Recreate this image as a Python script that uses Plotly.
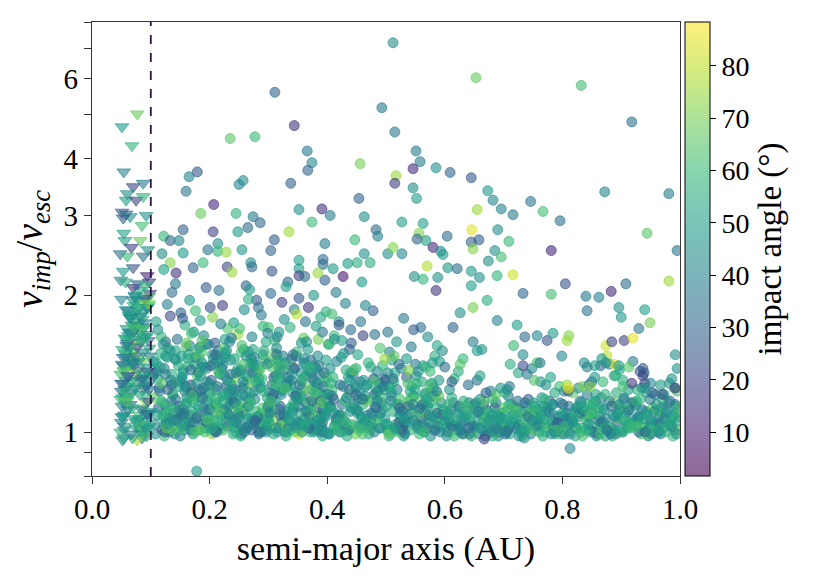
# Impact velocity vs. semi-major axis, coloured by impact angle

import plotly.graph_objects as go
import plotly.colors as pc

# ---------------- Data ----------------
# triangles: impacts inside 0.1 AU
tri_x = [
    .052, .061, .072, .083, .094, .056, .067, .078, .089, .098,
    .049, .058, .069, .080, .091, .054, .065, .076, .087, .096,
    .050, .060, .071, .082, .093, .055, .066, .077, .088, .097,
    .053, .062, .073, .084, .095, .057, .068, .079, .090, .099,
    .051, .059, .070, .081, .092, .056, .064, .075, .086, .095,
    .052, .063, .074, .085, .096, .058, .067, .078, .089, .094,
    .050, .061, .072, .083, .093, .054, .065, .076, .087, .098,
    .053, .060, .071, .082, .091, .057, .066, .077, .088, .097,
    .049, .062, .073, .084, .095, .055, .068, .079, .090, .096,
    .051, .059, .070, .081, .092, .056, .064, .075, .086, .093,
    .055, .064, .074, .085, .095, .050, .060, .070, .080, .090,
    .057, .067, .077, .088, .097, .052, .062, .072, .082, .092,
    .054, .063, .073, .084, .094, .049, .059, .069, .079, .089,
    .056, .066, .076, .087, .096, .051, .061, .071, .081, .091,
    .058, .068, .078, .086, .098, .053, .063, .074, .083, .093,
    .055, .065, .075, .085, .094, .050, .060, .070, .080, .090,
    .077, .051, .068, .054, .070, .087, .060, .058, .075, .087,
    .051, .058, .065, .053, .092, .085, .054, .056, .082, .067,
    .048, .060, .087, .095, .070, .053, .094, .049, .057, .078,
    .097, .091,
]
tri_y = [
    0.96, 1.12, 1.31, 1.58, 1.88, 1.03, 1.22, 1.45, 1.70, 2.02,
    1.00, 1.18, 1.39, 1.64, 1.95, 0.97, 1.15, 1.35, 1.62, 1.90,
    1.05, 1.26, 1.50, 1.80, 0.98, 1.09, 1.29, 1.54, 1.83, 1.99,
    1.08, 1.33, 1.60, 1.92, 1.02, 1.20, 1.42, 1.68, 1.97, 1.11,
    1.14, 1.38, 1.66, 2.05, 1.06, 1.24, 1.48, 1.75, 0.99, 1.27,
    1.19, 1.44, 1.73, 0.97, 1.10, 1.30, 1.56, 1.86, 1.04, 1.36,
    1.23, 1.51, 1.82, 1.01, 1.16, 1.40, 1.65, 1.96, 1.13, 1.47,
    1.28, 1.57, 1.90, 1.07, 1.21, 1.46, 1.78, 0.96, 1.25, 1.53,
    1.34, 1.63, 1.99, 1.00, 1.17, 1.37, 1.72, 1.06, 1.32, 1.59,
    1.41, 1.69, 2.08, 1.09, 1.26, 1.49, 1.79, 1.02, 1.43, 1.88,
    1.01, 1.20, 1.47, 1.77, 1.09, 1.28, 1.60, 1.95, 1.04, 1.34,
    1.15, 1.41, 1.71, 0.98, 1.24, 1.52, 1.85, 1.07, 1.30, 1.62,
    1.36, 1.66, 2.00, 1.12, 1.39, 1.18, 1.55, 0.97, 1.43, 1.74,
    1.61, 0.99, 1.26, 1.50, 1.92, 1.08, 1.33, 1.70, 1.21, 1.02,
    1.86, 1.13, 1.37, 1.69, 1.03, 1.46, 1.81, 1.25, 1.58, 1.10,
    1.23, 1.54, 1.05, 1.31, 1.64, 1.96, 1.17, 1.42, 1.88, 1.29,
    5.02, 4.70, 4.27, 3.74, 3.47, 3.53, 3.35, 3.24, 3.24, 3.30,
    3.05, 3.02, 2.98, 2.96, 3.00, 2.85, 2.74, 2.64, 2.64, 2.55,
    2.47, 2.44, 2.44, 2.52, 2.30, 2.26, 2.21, 2.16, 2.14, 2.12,
    2.14, 2.10,
]
tri_ang = [
    45, 38, 62, 27, 50, 55, 33, 71, 41, 18,
    58, 47, 22, 66, 39, 52, 30, 78, 44, 60,
    36, 53, 68, 25, 48, 41, 57, 15, 49, 64,
    51, 29, 46, 74, 35, 56, 42, 61, 23, 48,
    40, 63, 19, 54, 47, 32, 69, 44, 58, 37,
    55, 43, 66, 28, 50, 38, 82, 46, 53, 12,
    34, 59, 47, 41, 72, 26, 52, 45, 64, 39,
    48, 21, 57, 43, 60, 35, 49, 76, 31, 54,
    62, 44, 38, 53, 27, 67, 46, 40, 56, 30,
    45, 52, 16, 61, 43, 58, 37, 50, 70, 42,
    47, 60, 35, 52, 44, 28, 58, 41, 66, 50,
    39, 53, 46, 62, 31, 55, 43, 49, 37, 57,
    64, 42, 50, 36, 48, 59, 33, 54, 45, 40,
    51, 38, 57, 44, 70, 46, 29, 61, 52, 48,
    42, 56, 40, 63, 53, 37, 49, 45, 58, 34,
    58, 45, 52, 30, 47, 41, 65, 38, 55, 43,
    68, 48, 58, 40, 20, 38, 45, 50, 20, 58,
    25, 30, 45, 28, 45, 62, 50, 52, 68, 20,
    33, 60, 35, 45, 25, 48, 12, 40, 55, 30,
    22, 58,
]

# circles: dense band 0.1 - 0.4 AU
band_x = [
    .108, .137, .166, .195, .224, .253, .282, .311, .340, .369,
    .121, .150, .179, .208, .237, .266, .295, .324, .353, .382,
    .114, .143, .172, .201, .230, .259, .288, .317, .346, .375,
    .127, .156, .185, .214, .243, .272, .301, .330, .359, .388,
    .110, .139, .168, .197, .226, .255, .284, .313, .342, .371,
    .124, .153, .182, .211, .240, .269, .298, .327, .356, .385,
    .117, .146, .175, .204, .233, .262, .291, .320, .349, .378,
    .131, .160, .189, .218, .247, .276, .305, .334, .363, .392,
    .106, .135, .164, .193, .222, .251, .280, .309, .338, .367,
    .119, .148, .177, .206, .235, .264, .293, .322, .351, .380,
    .112, .141, .170, .199, .228, .257, .286, .315, .344, .373,
    .126, .155, .184, .213, .242, .271, .300, .329, .358, .387,
    .109, .138, .167, .196, .225, .254, .283, .312, .341, .370,
    .123, .152, .181, .210, .239, .268, .297, .326, .355, .384,
    .115, .144, .173, .202, .231, .260, .289, .318, .347, .376,
    .129, .158, .187, .216, .245, .274, .303, .332, .361, .390,
    .107, .136, .165, .194, .223, .252, .281, .310, .339, .368,
    .120, .149, .178, .207, .236, .265, .294, .323, .352, .381,
    .113, .142, .171, .200, .229, .258, .287, .316, .345, .374,
    .128, .157, .186, .215, .244, .273, .302, .331, .360, .389,
    .111, .140, .169, .198, .227, .256, .285, .314, .343, .372,
    .125, .154, .183, .212, .241, .270, .299, .328, .357, .386,
    .118, .147, .176, .205, .234, .263, .292, .321, .350, .379,
    .132, .161, .190, .219, .248, .277, .306, .335, .364, .393,
    .116, .145, .174, .203, .232, .261, .290, .319, .348, .377,
    .122, .151, .180, .209, .238, .267, .296, .325, .354, .383,
    .135, .164, .193, .222, .251, .280, .309, .338, .367, .396,
    .128, .157, .186, .215, .244, .273, .302, .331, .360, .389,
    .141, .170, .199, .228, .257, .286, .315, .344, .373, .398,
    .124, .153, .182, .211, .240, .269, .298, .327, .356, .385,
    .138, .167, .196, .225, .254, .283, .312, .341, .370, .399,
    .131, .160, .189, .218, .247, .276, .305, .334, .363, .392,
    .104, .174, .203, .232, .261, .290, .319, .348, .377, .394,
    .120, .149, .178, .207, .236, .265, .294, .323, .352, .381,
    .133, .162, .191, .220, .249, .278, .307, .336, .365, .394,
    .126, .155, .184, .213, .242, .271, .300, .329, .358, .387,
    .140, .169, .198, .227, .256, .285, .314, .343, .372, .397,
    .123, .152, .181, .210, .239, .268, .297, .326, .355, .384,
    .137, .166, .195, .224, .253, .282, .311, .340, .369, .398,
    .129, .158, .187, .216, .245, .274, .303, .332, .361, .390,
    .105, .172, .201, .230, .259, .288, .317, .346, .375, .396,
    .121, .150, .179, .208, .237, .266, .295, .324, .353, .382,
    .134, .163, .192, .221, .250, .279, .308, .337, .366, .395,
    .127, .156, .185, .214, .243, .272, .301, .330, .359, .388,
    .142, .171, .200, .229, .258, .287, .316, .345, .374, .399,
    .125, .154, .183, .212, .241, .270, .299, .328, .357, .386,
    .139, .168, .197, .226, .255, .284, .313, .342, .371, .397,
    .132, .161, .190, .219, .248, .277, .306, .335, .364, .393,
    .106, .175, .204, .233, .262, .291, .320, .349, .378, .391,
    .130, .159, .188, .217, .246, .275, .304, .333, .362, .391,
]
band_y = [
    0.99, 1.21, 1.05, 1.38, 1.12, 0.98, 1.29, 1.07, 1.45, 1.02,
    1.08, 0.98, 1.33, 1.02, 1.17, 1.50, 1.03, 1.24, 0.99, 1.13,
    1.25, 1.44, 0.99, 1.15, 1.03, 1.27, 1.10, 1.40, 1.06, 1.31,
    1.02, 1.12, 1.19, 1.51, 1.31, 1.05, 1.42, 0.98, 1.20, 1.08,
    1.36, 1.03, 1.27, 1.08, 1.46, 1.16, 0.99, 1.33, 1.12, 1.00,
    1.15, 1.31, 1.01, 1.24, 0.99, 1.39, 1.19, 1.04, 1.35, 1.22,
    1.49, 1.07, 1.41, 0.99, 1.21, 1.09, 1.48, 1.14, 1.02, 1.40,
    1.06, 1.54, 1.13, 1.34, 1.07, 1.23, 1.02, 1.29, 1.16, 0.98,
    1.19, 1.17, 1.48, 1.11, 1.40, 1.01, 1.35, 0.99, 1.27, 1.11,
    1.01, 1.26, 1.07, 1.45, 1.15, 1.32, 1.06, 1.21, 1.04, 1.26,
    1.31, 0.99, 1.22, 1.04, 1.26, 1.11, 1.25, 1.44, 1.38, 1.05,
    1.11, 1.37, 1.54, 1.19, 1.02, 1.45, 1.13, 1.08, 1.01, 1.34,
    1.42, 1.10, 1.03, 1.29, 1.53, 0.99, 1.40, 1.17, 1.22, 1.15,
    0.98, 1.47, 1.35, 1.01, 1.18, 1.28, 1.00, 1.37, 1.10, 1.03,
    1.23, 1.04, 1.16, 1.40, 1.09, 1.20, 1.31, 1.02, 1.47, 1.19,
    1.53, 1.23, 1.50, 1.13, 1.35, 1.04, 1.16, 1.26, 1.07, 1.09,
    1.04, 1.34, 1.09, 1.56, 1.01, 1.36, 1.08, 1.49, 1.30, 1.36,
    1.28, 1.14, 1.28, 1.06, 1.44, 1.14, 1.45, 1.05, 1.18, 1.01,
    1.13, 1.51, 1.01, 1.22, 1.11, 1.52, 1.04, 1.31, 1.00, 1.24,
    1.46, 1.01, 1.39, 1.36, 1.24, 1.07, 1.22, 1.11, 1.42, 1.07,
    1.09, 1.28, 1.11, 1.02, 1.49, 1.25, 1.37, 1.53, 1.14, 1.44,
    1.34, 1.09, 1.24, 1.16, 1.05, 1.42, 1.10, 1.00, 1.25, 1.17,
    1.17, 1.40, 1.46, 1.48, 1.29, 1.02, 1.51, 1.23, 1.05, 1.29,
    1.00, 1.19, 1.06, 1.09, 1.38, 1.18, 1.27, 1.41, 1.33, 1.12,
    1.39, 1.06, 1.20, 1.27, 1.14, 1.33, 1.03, 1.12, 1.50, 1.04,
    1.03, 1.09, 1.36, 1.00, 1.24, 1.14, 1.06, 1.47, 1.19, 1.28,
    1.27, 1.40, 1.02, 1.20, 1.11, 1.05, 1.32, 1.01, 1.52, 1.09,
    1.10, 1.04, 1.23, 1.43, 1.00, 1.35, 1.15, 1.26, 1.03, 1.17,
    1.45, 1.18, 1.08, 1.05, 1.29, 1.09, 1.00, 1.38, 1.12, 1.44,
    1.00, 1.32, 1.46, 1.15, 1.06, 1.22, 1.41, 1.04, 1.30, 1.01,
    1.21, 1.01, 1.17, 1.33, 1.50, 1.00, 1.25, 1.11, 1.08, 1.32,
    1.07, 1.25, 1.04, 1.10, 1.18, 1.46, 1.12, 1.02, 1.41, 1.05,
    1.33, 1.48, 1.30, 1.23, 1.02, 1.13, 1.37, 1.22, 1.00, 1.20,
    1.16, 1.12, 1.10, 1.41, 1.34, 1.07, 1.03, 1.30, 1.14, 1.38,
    1.51, 1.07, 1.39, 1.02, 1.10, 1.29, 1.19, 1.06, 1.25, 1.00,
    1.05, 1.35, 1.01, 1.26, 1.45, 1.01, 1.07, 1.42, 1.04, 1.23,
    1.12, 1.22, 1.27, 1.08, 1.21, 1.38, 1.48, 1.16, 1.35, 1.11,
    1.38, 1.02, 1.14, 1.48, 1.04, 1.18, 1.03, 1.09, 1.20, 1.47,
    1.01, 1.55, 1.05, 1.17, 1.37, 1.08, 1.28, 1.34, 1.02, 1.14,
    1.24, 1.15, 1.42, 1.03, 1.13, 1.52, 1.10, 1.00, 1.45, 1.03,
    1.43, 1.05, 1.21, 1.30, 1.00, 1.26, 1.44, 1.20, 1.10, 1.29,
    1.09, 1.29, 1.08, 1.12, 1.27, 1.03, 1.01, 1.39, 1.27, 1.06,
    1.30, 1.45, 1.00, 1.38, 1.08, 1.11, 1.21, 1.13, 1.06, 1.35,
    1.02, 1.10, 1.33, 1.06, 1.16, 1.42, 1.05, 1.27, 1.31, 1.00,
    1.18, 1.20, 1.12, 1.51, 1.41, 1.00, 1.34, 1.03, 1.17, 1.21,
    1.47, 1.03, 1.53, 1.00, 1.22, 1.16, 1.14, 1.25, 1.00, 1.40,
    1.06, 1.37, 1.06, 1.21, 1.03, 1.31, 1.02, 1.48, 1.39, 1.08,
    1.13, 1.16, 1.25, 1.44, 1.14, 1.06, 1.39, 1.07, 1.11, 1.26,
    1.35, 1.00, 1.02, 1.09, 1.47, 1.23, 1.09, 1.18, 1.22, 1.02,
    1.04, 1.26, 1.19, 1.35, 1.05, 1.40, 1.17, 1.32, 1.04, 1.16,
]
band_ang = [
    45, 62, 33, 51, 18, 57, 40, 72, 28, 48,
    55, 41, 67, 24, 49, 36, 58, 43, 81, 30,
    38, 52, 46, 60, 27, 44, 65, 35, 50, 14,
    63, 29, 54, 42, 71, 39, 47, 56, 33, 59,
    47, 58, 21, 53, 44, 66, 31, 48, 40, 57,
    31, 46, 61, 37, 55, 25, 52, 68, 45, 42,
    56, 35, 49, 74, 38, 50, 43, 27, 62, 47,
    42, 64, 28, 45, 59, 33, 76, 51, 37, 54,
    68, 39, 53, 32, 46, 61, 35, 57, 44, 26,
    25, 50, 43, 58, 34, 48, 66, 40, 53, 61,
    52, 44, 70, 47, 23, 55, 41, 63, 36, 49,
    39, 57, 35, 62, 50, 30, 54, 45, 78, 38,
    49, 26, 58, 43, 65, 42, 37, 53, 48, 60,
    60, 48, 40, 55, 31, 69, 46, 28, 57, 43,
    34, 63, 51, 22, 47, 38, 59, 44, 32, 66,
    57, 41, 64, 50, 39, 53, 24, 61, 46, 35,
    43, 55, 30, 48, 62, 36, 51, 70, 41, 56,
    65, 33, 47, 59, 44, 27, 63, 38, 54, 45,
    28, 52, 60, 40, 56, 47, 34, 49, 67, 39,
    50, 45, 37, 66, 29, 58, 43, 55, 35, 52,
    46, 61, 55, 34, 51, 40, 70, 42, 58, 31,
    37, 30, 44, 57, 48, 64, 49, 33, 45, 63,
    61, 54, 26, 45, 68, 35, 56, 47, 39, 50,
    40, 47, 59, 38, 53, 44, 31, 62, 51, 27,
    53, 36, 48, 64, 42, 57, 46, 30, 60, 44,
    51, 36, 60, 44, 28, 55, 47, 39, 63, 41,
    33, 58, 45, 52, 67, 40, 24, 56, 48, 37,
    62, 43, 30, 49, 55, 38, 71, 46, 53, 29,
    44, 65, 52, 35, 42, 59, 48, 31, 57, 50,
    27, 47, 63, 58, 36, 51, 42, 69, 40, 55,
    56, 39, 48, 43, 61, 34, 53, 45, 26, 64,
    45, 54, 36, 66, 49, 43, 58, 37, 52, 40,
    38, 61, 29, 47, 55, 64, 41, 50, 46, 33,
    59, 32, 57, 41, 38, 48, 66, 54, 35, 47,
    46, 52, 43, 60, 31, 56, 39, 44, 68, 25,
    35, 48, 67, 38, 53, 30, 57, 42, 49, 61,
    53, 27, 44, 55, 46, 62, 35, 59, 41, 48,
    40, 63, 51, 30, 58, 45, 49, 36, 56, 43,
    64, 41, 37, 54, 44, 33, 60, 47, 29, 52,
    31, 57, 46, 49, 65, 52, 38, 55, 43, 39,
    48, 35, 59, 42, 37, 47, 54, 28, 62, 56,
    57, 44, 32, 63, 50, 39, 45, 61, 36, 47,
    42, 53, 61, 37, 45, 58, 29, 50, 54, 35,
    66, 38, 47, 56, 33, 46, 52, 40, 59, 44,
    34, 59, 40, 48, 62, 37, 57, 45, 31, 53,
    50, 46, 55, 29, 47, 60, 41, 63, 48, 38,
    43, 31, 64, 52, 39, 54, 46, 35, 57, 49,
    58, 49, 38, 45, 56, 28, 63, 51, 42, 36,
    37, 62, 53, 41, 48, 57, 34, 46, 60, 45,
    47, 40, 35, 59, 43, 50, 61, 38, 51, 66,
]

# circles: looser cloud above the band, 0.1 - 0.45 AU
upper_x = [
    .125, .158, .190, .222, .255, .288, .318, .352, .385, .420,
    .112, .145, .176, .209, .241, .272, .304, .337, .368, .403,
    .133, .166, .198, .231, .262, .296, .327, .360, .392, .431,
    .118, .151, .184, .216, .248, .280, .311, .344, .377, .412,
    .128, .161, .194, .226, .259, .291, .323, .356, .389, .440,
    .109, .142, .173, .205, .237, .268, .300, .333, .365, .398,
    .136, .169, .201, .234, .266, .299, .330, .363, .396, .425,
    .121, .154, .187, .219, .251, .283, .315, .348, .381, .415,
]
upper_y = [
    1.58, 1.72, 1.63, 1.90, 1.55, 1.81, 1.66, 1.97, 1.60, 1.75,
    1.68, 1.60, 1.85, 1.57, 1.74, 1.62, 2.02, 1.70, 1.88, 1.56,
    1.80, 1.95, 1.56, 1.69, 2.10, 1.58, 1.77, 1.61, 1.66, 1.92,
    1.62, 1.83, 1.76, 2.05, 1.64, 1.95, 1.59, 1.86, 2.00, 1.63,
    1.91, 1.57, 2.08, 1.60, 1.86, 1.71, 1.93, 1.57, 1.79, 1.68,
    1.75, 2.12, 1.66, 1.79, 1.61, 2.06, 1.70, 2.14, 1.58, 1.84,
    2.03, 1.65, 1.88, 1.58, 1.96, 1.65, 2.09, 1.75, 2.16, 1.59,
    1.56, 1.78, 1.59, 1.73, 1.69, 1.88, 1.62, 1.82, 1.71, 2.03,
]
upper_ang = [
    30, 55, 42, 18, 63, 37, 48, 25, 70, 44,
    45, 36, 60, 28, 50, 41, 33, 57, 15, 52,
    22, 47, 38, 64, 29, 53, 44, 67, 36, 40,
    58, 31, 49, 35, 75, 26, 56, 39, 47, 61,
    40, 68, 27, 50, 43, 58, 20, 46, 54, 33,
    52, 38, 46, 72, 35, 48, 62, 30, 44, 57,
    33, 59, 24, 43, 55, 40, 51, 36, 28, 49,
    47, 26, 65, 39, 61, 34, 42, 79, 50, 37,
]

# circles: 0.4 - 0.6 AU
mid_x = [
    .404, .425, .446, .467, .488, .509, .530, .551, .572, .597,
    .413, .434, .455, .476, .497, .518, .539, .560, .581, .402,
    .408, .429, .450, .471, .492, .513, .534, .555, .576, .480,
    .418, .439, .460, .481, .502, .523, .544, .565, .586, .533,
    .402, .423, .444, .465, .486, .507, .528, .549, .570, .590,
    .416, .437, .458, .479, .500, .521, .542, .563, .584, .455,
    .410, .431, .452, .473, .494, .515, .536, .557, .578, .518,
    .421, .442, .463, .484, .505, .526, .547, .568, .589, .568,
    .406, .427, .448, .469, .490, .511, .532, .553, .574, .437,
    .414, .435, .456, .477, .498, .519, .540, .561, .582, .505,
    .409, .430, .451, .472, .493, .514, .535, .556, .577, .579,
    .419, .440, .461, .482, .503, .524, .545, .566, .587, .463,
    .412, .433, .454, .475, .496, .517, .538, .559, .580, .600,
    .405, .426, .447, .468, .489, .510, .531, .552, .573, .594,
    .417, .438, .459, .480, .501, .522, .543, .564, .585, .407,
    .403, .424, .445, .466, .487, .508, .529, .550, .571, .592,
    .415, .436, .457, .478, .499, .520, .541, .562, .583, .449,
    .407, .428, .449, .470, .491, .512, .533, .554, .575, .596,
    .420, .441, .462, .483, .504, .525, .546, .567, .588, .491,
    .401, .422, .443, .464, .485, .506, .527, .548, .569, .590,
    .411, .432, .453, .474, .495, .516, .537, .558, .579, .527,
    .418, .439, .460, .481, .502, .523, .544, .565, .586, .598,
    .405, .438, .470, .503, .535, .568, .420, .452, .485, .518,
    .550, .583, .412, .445, .478, .510, .543, .575, .428, .461,
    .494, .526, .559, .591, .408, .441, .474, .506, .539, .571,
    .424, .457, .490, .522, .555, .587, .416, .449, .481, .514,
    .547, .579, .432, .465, .498, .530, .563, .596, .402, .600,
]
mid_y = [
    0.99, 1.15, 1.03, 1.27, 1.08, 1.20, 0.98, 1.33, 1.05, 1.12,
    1.10, 0.98, 1.22, 1.04, 1.31, 1.01, 1.17, 1.07, 1.25, 0.99,
    1.24, 1.06, 1.12, 0.99, 1.16, 1.29, 1.05, 1.19, 0.98, 1.21,
    1.02, 1.30, 0.99, 1.14, 1.01, 1.09, 1.26, 1.00, 1.13, 1.06,
    1.17, 1.09, 1.34, 1.06, 1.23, 0.99, 1.11, 1.24, 1.02, 1.30,
    1.06, 1.21, 1.08, 1.31, 1.04, 1.15, 1.01, 1.10, 1.19, 1.03,
    1.32, 1.02, 1.18, 1.01, 1.12, 1.35, 1.08, 0.99, 1.28, 1.15,
    1.00, 1.13, 1.05, 1.22, 0.98, 1.05, 1.20, 1.15, 1.07, 1.10,
    1.13, 1.26, 0.99, 1.09, 1.28, 1.11, 0.99, 1.04, 1.16, 1.01,
    1.04, 1.01, 1.29, 1.18, 1.07, 1.24, 1.14, 1.29, 1.01, 1.26,
    1.20, 1.17, 1.10, 1.03, 1.19, 1.02, 1.32, 1.12, 1.23, 1.08,
    1.08, 1.35, 1.15, 1.26, 1.35, 1.18, 1.04, 1.21, 1.10, 1.18,
    1.03, 1.19, 1.01, 1.10, 1.24, 1.04, 1.14, 1.01, 1.20, 1.06,
    1.14, 1.00, 1.27, 1.17, 1.02, 1.22, 1.00, 1.28, 1.09, 1.16,
    1.01, 1.24, 1.07, 1.00, 1.14, 1.05, 1.19, 1.04, 1.01, 1.13,
    1.21, 1.08, 1.15, 1.26, 1.06, 1.17, 1.03, 1.09, 1.14, 1.00,
    1.07, 1.32, 1.02, 1.09, 1.30, 1.00, 1.23, 1.15, 1.05, 1.25,
    1.28, 1.04, 1.21, 1.02, 1.10, 1.31, 1.06, 1.02, 1.27, 1.09,
    1.09, 1.13, 1.30, 1.13, 1.00, 1.09, 1.15, 1.22, 1.03, 1.02,
    1.00, 1.27, 1.04, 1.20, 1.17, 1.25, 1.01, 1.06, 1.18, 1.20,
    1.18, 1.05, 1.11, 1.05, 1.26, 1.02, 1.28, 1.13, 1.08, 1.11,
    1.05, 1.11, 1.18, 1.30, 1.04, 1.13, 1.10, 1.00, 1.23, 1.04,
    1.38, 1.52, 1.42, 1.66, 1.45, 1.39, 1.72, 1.48, 1.36, 1.58,
    1.41, 1.47, 1.60, 1.37, 1.85, 1.44, 1.54, 1.36, 1.49, 1.63,
    1.40, 1.38, 1.70, 1.43, 1.82, 1.57, 1.39, 1.50, 1.37, 1.62,
    1.46, 1.75, 1.53, 1.41, 1.36, 1.55, 1.43, 1.38, 1.64, 1.47,
    1.68, 1.42, 1.37, 1.90, 1.45, 1.78, 1.40, 1.51, 1.56, 1.39,
]
mid_ang = [
    48, 33, 57, 41, 64, 26, 52, 45, 38, 59,
    36, 55, 44, 70, 31, 49, 62, 28, 53, 42,
    61, 40, 29, 53, 46, 58, 35, 67, 44, 23,
    27, 52, 63, 38, 55, 42, 48, 33, 60, 50,
    54, 45, 36, 59, 21, 66, 41, 50, 31, 47,
    43, 62, 50, 25, 48, 37, 57, 44, 74, 34,
    58, 29, 47, 65, 39, 53, 32, 61, 45, 56,
    35, 57, 41, 48, 60, 30, 49, 38, 52, 66,
    50, 38, 68, 43, 33, 56, 45, 27, 58, 41,
    63, 44, 31, 56, 47, 40, 72, 53, 37, 49,
    39, 60, 53, 34, 58, 45, 28, 48, 65, 43,
    46, 35, 58, 51, 42, 62, 54, 40, 30, 57,
    52, 40, 63, 35, 47, 58, 29, 54, 44, 61,
    38, 56, 45, 68, 31, 50, 42, 59, 36, 47,
    60, 33, 49, 41, 55, 27, 64, 46, 39, 53,
    44, 62, 37, 50, 58, 45, 33, 67, 48, 40,
    35, 48, 57, 43, 29, 61, 52, 38, 55, 46,
    57, 41, 30, 59, 46, 36, 49, 45, 62, 34,
    43, 55, 48, 32, 64, 51, 40, 57, 37, 50,
    49, 37, 61, 46, 40, 55, 27, 42, 53, 66,
    31, 59, 44, 52, 38, 47, 63, 35, 48, 42,
    56, 45, 35, 62, 51, 30, 46, 60, 41, 49,
    44, 30, 58, 36, 49, 63, 25, 52, 40, 47,
    35, 55, 43, 68, 29, 51, 38, 60, 46, 20,
    57, 42, 33, 48, 62, 27, 54, 39, 71, 45,
    50, 37, 64, 31, 45, 53, 41, 58, 34, 66,
    28, 49, 56, 42, 75, 37, 52, 44, 61, 33,
]

# circles: 0.6 - 1.0 AU
outer_x = [
    .603, .643, .683, .723, .763, .803, .843, .883, .923, .963,
    .618, .658, .698, .738, .778, .818, .858, .898, .938, .978,
    .611, .651, .691, .731, .771, .811, .851, .891, .931, .971,
    .626, .666, .706, .746, .786, .826, .866, .906, .946, .986,
    .607, .647, .687, .727, .767, .807, .847, .887, .927, .967,
    .622, .662, .702, .742, .782, .822, .862, .902, .942, .982,
    .614, .654, .694, .734, .774, .814, .854, .894, .934, .974,
    .630, .670, .710, .750, .790, .830, .870, .910, .950, .990,
    .605, .645, .685, .725, .765, .805, .845, .885, .925, .965,
    .620, .660, .700, .740, .780, .820, .860, .900, .940, .980,
    .612, .652, .692, .732, .772, .812, .852, .892, .932, .972,
    .628, .668, .708, .748, .788, .828, .868, .908, .948, .988,
    .609, .649, .689, .729, .769, .809, .849, .889, .929, .969,
    .624, .664, .704, .744, .784, .824, .864, .904, .944, .984,
    .616, .656, .696, .736, .776, .816, .856, .896, .936, .976,
    .633, .673, .713, .753, .793, .833, .873, .913, .953, .993,
    .601, .641, .681, .721, .761, .801, .841, .881, .921, .961,
    .637, .677, .717, .757, .797, .837, .877, .917, .957, .996,
    .623, .663, .703, .743, .783, .823, .863, .903, .943, .983,
    .638, .678, .718, .758, .798, .838, .878, .918, .958, .998,
    .631, .671, .711, .751, .791, .831, .871, .911, .951, .991,
    .606, .646, .686, .726, .766, .806, .846, .886, .926, .966,
    .627, .667, .707, .747, .787, .827, .867, .907, .947, .987,
    .602, .642, .682, .722, .762, .802, .842, .882, .922, .962,
    .634, .674, .714, .754, .794, .834, .874, .914, .954, .994,
    .610, .650, .690, .730, .770, .810, .850, .890, .930, .970,
    .625, .665, .705, .745, .785, .825, .865, .905, .945, .985,
    .640, .680, .720, .760, .800, .840, .880, .920, .960, .999,
    .632, .672, .712, .752, .792, .832, .872, .912, .952, .992,
    .608, .648, .688, .728, .768, .808, .848, .888, .928, .968,
    .629, .669, .709, .749, .789, .829, .869, .909, .949, .989,
    .604, .644, .684, .724, .764, .804, .844, .884, .924, .964,
    .636, .676, .716, .756, .796, .836, .876, .916, .956, .997,
    .613, .653, .693, .733, .773, .813, .853, .893, .933, .973,
    .621, .661, .701, .741, .781, .821, .861, .901, .941, .981,
    .617, .657, .697, .737, .777, .817, .857, .897, .937, .977,
    .608, .655, .702, .748, .795, .842, .888, .935, .982, .631,
    .678, .725, .772, .818, .865, .912, .958, .616, .663, .710,
    .757, .803, .850, .897, .943, .990, .640, .687, .733, .780,
    .827, .873, .920, .967, .623, .670, .717, .763, .810, .857,
    .903, .950, .995, .648, .695, .740, .787, .834, .880, .927,
    .973, .612, .660, .706, .752, .799, .845, .892, .939, .986,
]
outer_y = [
    0.98, 1.06, 1.01, 1.13, 1.03, 0.99, 1.09, 1.02, 1.15, 1.00,
    1.04, 0.99, 1.10, 1.01, 1.17, 1.05, 0.98, 1.12, 1.02, 1.07,
    1.12, 1.02, 0.98, 1.07, 1.00, 1.14, 1.03, 0.99, 1.08, 1.18,
    1.00, 1.15, 1.05, 0.99, 1.09, 1.02, 1.19, 1.06, 0.98, 1.03,
    1.07, 1.00, 1.16, 1.04, 0.98, 1.10, 1.01, 1.16, 1.04, 0.99,
    1.02, 1.09, 1.03, 1.18, 1.06, 0.98, 1.13, 1.00, 1.11, 1.05,
    1.16, 1.04, 1.08, 1.00, 1.13, 1.07, 1.00, 1.09, 0.99, 1.12,
    0.99, 1.12, 0.99, 1.09, 1.01, 1.17, 1.05, 1.03, 1.06, 1.01,
    1.10, 0.98, 1.13, 1.03, 1.19, 1.01, 1.08, 0.98, 1.14, 1.09,
    1.03, 1.18, 1.01, 1.14, 1.04, 1.11, 0.99, 1.14, 1.00, 1.16,
    1.19, 1.03, 1.06, 0.98, 1.11, 1.04, 1.15, 1.05, 1.18, 1.02,
    1.01, 1.07, 1.20, 1.06, 0.99, 1.08, 1.02, 1.10, 1.03, 0.98,
    1.05, 1.13, 1.00, 1.11, 1.07, 1.00, 1.10, 1.01, 1.07, 1.13,
    1.14, 1.01, 1.11, 1.02, 1.15, 1.13, 1.04, 1.18, 0.99, 1.06,
    0.98, 1.10, 1.04, 1.16, 1.02, 1.06, 1.17, 1.07, 1.12, 1.00,
    1.08, 1.05, 1.15, 1.01, 1.08, 1.02, 0.98, 1.12, 1.05, 1.10,
    1.02, 1.16, 0.98, 1.07, 1.00, 1.15, 1.06, 1.00, 1.16, 1.04,
    1.11, 1.00, 1.09, 1.12, 1.05, 1.09, 1.01, 1.04, 1.01, 1.08,
    1.01, 1.12, 0.99, 1.05, 1.15, 1.02, 1.08, 1.00, 1.10, 1.17,
    1.09, 1.00, 1.14, 1.07, 0.99, 1.11, 1.03, 1.16, 1.05, 1.01,
    0.99, 1.07, 1.03, 1.16, 1.04, 1.00, 1.12, 1.02, 0.99, 1.14,
    1.15, 1.03, 1.10, 0.98, 1.12, 1.06, 1.00, 1.09, 1.17, 1.04,
    1.04, 1.17, 1.01, 1.11, 1.00, 1.14, 1.05, 1.13, 1.02, 1.08,
    1.11, 0.99, 1.18, 1.02, 1.07, 1.09, 1.15, 0.99, 1.06, 1.12,
    1.06, 1.10, 1.05, 1.14, 1.02, 0.98, 1.07, 1.05, 1.13, 0.99,
    1.00, 1.15, 1.08, 1.01, 1.18, 1.04, 1.11, 1.08, 1.00, 1.10,
    1.13, 1.05, 1.00, 1.09, 1.03, 1.12, 0.99, 1.19, 1.09, 1.03,
    1.02, 1.09, 1.12, 1.04, 1.10, 1.01, 1.17, 1.03, 1.15, 1.06,
    1.17, 1.01, 1.06, 1.13, 1.05, 1.16, 1.02, 1.11, 1.01, 1.15,
    1.05, 1.13, 1.02, 1.00, 1.14, 1.07, 1.09, 1.00, 1.08, 1.02,
    1.08, 0.98, 1.15, 1.06, 1.01, 1.10, 1.13, 1.06, 1.18, 1.09,
    1.00, 1.08, 1.04, 1.17, 1.09, 1.03, 1.04, 1.14, 1.03, 1.00,
    1.14, 1.06, 1.09, 1.03, 1.16, 1.13, 1.01, 1.02, 1.11, 1.13,
    1.03, 1.16, 1.00, 1.10, 1.06, 0.99, 1.16, 1.10, 1.04, 1.07,
    1.10, 1.02, 1.13, 1.08, 0.99, 1.08, 1.06, 1.01, 1.00, 1.05,
    1.07, 1.11, 1.07, 1.02, 1.11, 1.05, 1.10, 1.15, 1.07, 1.11,
    1.24, 1.30, 1.22, 1.38, 1.26, 1.21, 1.33, 1.25, 1.28, 1.45,
    1.23, 1.35, 1.27, 1.22, 1.40, 1.24, 1.21, 1.31, 1.52, 1.26,
    1.42, 1.23, 1.29, 1.37, 1.22, 1.25, 1.27, 1.21, 1.48, 1.32,
    1.25, 1.21, 1.43, 1.27, 1.36, 1.22, 1.55, 1.29, 1.23, 1.21,
    1.30, 1.28, 1.23, 1.58, 1.25, 1.34, 1.22, 1.26, 1.41, 1.24,
    1.21, 1.29, 1.33, 1.24, 1.30, 1.47, 1.27, 1.22, 1.35, 1.31,
]
outer_ang = [
    45, 58, 32, 50, 63, 27, 47, 55, 39, 42,
    53, 38, 61, 44, 29, 56, 48, 35, 67, 51,
    31, 49, 43, 66, 52, 40, 57, 24, 46, 59,
    60, 27, 55, 37, 45, 62, 33, 50, 41, 48,
    42, 64, 36, 53, 58, 31, 46, 70, 54, 35,
    55, 45, 68, 26, 41, 53, 60, 39, 48, 63,
    38, 52, 47, 59, 34, 45, 22, 56, 62, 44,
    65, 35, 51, 43, 57, 38, 53, 46, 30, 57,
    47, 60, 29, 55, 46, 67, 41, 58, 52, 36,
    34, 43, 58, 40, 62, 49, 36, 63, 44, 53,
    57, 51, 44, 61, 30, 55, 50, 28, 59, 46,
    41, 66, 37, 48, 54, 42, 64, 47, 35, 60,
    52, 30, 62, 35, 49, 58, 39, 54, 45, 40,
    28, 56, 49, 57, 43, 34, 56, 42, 65, 51,
    59, 41, 53, 32, 60, 47, 44, 61, 38, 55,
    44, 54, 40, 64, 37, 59, 52, 33, 50, 43,
    50, 39, 57, 46, 55, 26, 61, 49, 56, 37,
    36, 61, 45, 52, 40, 63, 35, 57, 43, 62,
    41, 56, 34, 62, 47, 51, 38, 59, 45, 30,
    55, 42, 66, 37, 53, 44, 60, 28, 50, 63,
    36, 61, 47, 52, 29, 58, 43, 55, 40, 48,
    59, 33, 54, 45, 63, 39, 49, 42, 57, 35,
    44, 65, 38, 56, 41, 53, 27, 61, 48, 52,
    52, 40, 60, 31, 55, 46, 58, 36, 43, 64,
    38, 57, 45, 49, 36, 62, 41, 53, 67, 44,
    63, 29, 52, 40, 58, 35, 55, 47, 32, 56,
    47, 54, 36, 65, 43, 50, 61, 39, 53, 41,
    33, 48, 62, 44, 51, 57, 37, 64, 46, 49,
    56, 42, 49, 58, 30, 45, 54, 41, 60, 38,
    45, 60, 33, 51, 47, 39, 63, 50, 42, 58,
    51, 37, 57, 46, 62, 34, 48, 56, 39, 53,
    40, 53, 44, 35, 49, 60, 46, 31, 55, 47,
    60, 46, 55, 42, 38, 52, 35, 58, 44, 61,
    35, 51, 41, 59, 54, 43, 57, 48, 62, 37,
    49, 44, 63, 37, 45, 56, 40, 52, 36, 54,
    54, 39, 48, 53, 42, 47, 59, 45, 50, 43,
    47, 33, 56, 42, 61, 38, 52, 25, 45, 59,
    36, 54, 44, 67, 30, 50, 41, 58, 46, 35,
    62, 40, 28, 53, 47, 57, 34, 65, 43, 51,
    44, 59, 37, 49, 55, 31, 60, 46, 27, 52,
    55, 42, 63, 38, 48, 36, 53, 70, 40, 57,
    48, 29, 51, 45, 64, 42, 37, 56, 33, 46,
]

# circles: scattered high-velocity impacts
sparse_x = [
    .512, .311, .493, .344, .515, .235, .277, .366, .374, .367,
    .456, .551, .558, .546, .517, .515, .546, .552, .179, .165,
    .160, .250, .257, .338, .207, .185, .245, .274, .286, .265,
    .352, .391, .405, .374, .454, .463, .527, .483, .486, .248,
    .206, .155, .122, .335, .310, .396, .447, .133, .148, .119,
    .155, .197, .214, .214, .228, .255, .304, .352, .393, .393,
    .463, .503, .512, .527, .133, .122, .143, .172, .189, .230,
    .238, .270, .272, .306, .352, .352, .362, .384, .410, .427,
    .435, .451, .473, .459, .653, .832, .918, .585, .609, .645,
    .673, .682, .696, .716, .746, .767, .796, .872, .981, .944,
    .995, .655, .646, .690, .563, .556, .553, .568, .604, .645,
    .658, .648, .580, .593, .597, .709, .685, .696, .674, .781,
    .570, .563, .605, .621, .645, .659, .645, .689, .716, .733,
    .781, .805, .883, .908, .981, .548, .588, .585, .840, .862,
    .842, .896, .900, .940, .949, .930, .811, .874, .884, .905,
    .920, .876, .888, .992, .995, .937, .932, .940, .913, .896,
    .855, .867, .874, .837, .842, .918, .937, .891, .903, .992,
    .970, .953, .940, .847, .855, .869, .808, .810, .626, .648,
    .672, .689, .723, .736, .757, .774, .784, .808, .762, .733,
    .711, .626, .655, .614, .178, .813, .667, .735,
]
sparse_y = [
    7.20, 5.60, 5.18, 4.73, 4.58, 4.43, 4.47, 4.16, 3.92, 3.77,
    3.90, 4.16, 3.94, 3.80, 3.67, 3.53, 3.45, 3.27, 3.74, 3.65,
    3.39, 3.51, 3.58, 3.53, 3.17, 3.03, 3.03, 2.98, 2.89, 2.82,
    3.09, 3.10, 3.00, 2.90, 3.27, 2.98, 2.90, 2.79, 2.70, 2.76,
    2.76, 2.79, 2.70, 2.76, 2.65, 2.60, 2.65, 2.64, 2.64, 2.47,
    2.48, 2.52, 2.60, 2.50, 2.49, 2.52, 2.51, 2.39, 2.40, 2.34,
    2.47, 2.47, 2.55, 2.47, 2.36, 2.28, 2.24, 2.30, 2.36, 2.31,
    2.25, 2.36, 2.31, 2.26, 2.29, 2.21, 2.20, 2.24, 2.29, 2.20,
    2.35, 2.36, 2.36, 2.14, 6.03, 5.80, 4.82, 3.82, 3.73, 3.63,
    3.40, 3.24, 3.10, 3.01, 3.22, 3.06, 2.92, 3.38, 3.35, 2.74,
    2.51, 3.09, 2.79, 2.79, 2.88, 2.74, 2.66, 2.64, 2.70, 2.62,
    2.65, 2.53, 2.55, 2.50, 2.46, 2.63, 2.51, 2.43, 2.38, 2.51,
    2.32, 2.17, 2.30, 2.29, 2.26, 2.19, 2.10, 2.21, 2.22, 2.02,
    2.01, 2.12, 2.04, 2.12, 2.15, 2.20, 2.19, 2.05, 1.99, 1.98,
    1.85, 1.88, 1.79, 1.86, 1.74, 1.69, 1.63, 1.55, 1.58, 1.59,
    1.61, 1.47, 1.41, 1.48, 1.38, 1.38, 1.36, 1.28, 1.39, 1.40,
    1.40, 1.45, 1.42, 1.42, 1.39, 1.28, 1.33, 1.33, 1.26, 1.25,
    1.21, 1.22, 1.25, 1.26, 1.32, 1.29, 1.27, 1.25, 1.83, 1.88,
    1.95, 1.76, 1.72, 1.62, 1.63, 1.59, 1.65, 1.59, 1.42, 1.40,
    1.41, 1.41, 1.51, 1.70, 0.82, 0.92, 0.965, 0.97,
]
sparse_ang = [
    45, 30, 38, 15, 37, 65, 60, 38, 42, 30,
    70, 38, 38, 12, 75, 18, 45, 50, 25, 42,
    35, 40, 45, 28, 12, 68, 58, 38, 32, 32,
    45, 15, 38, 60, 28, 45, 50, 33, 40, 48,
    20, 30, 58, 76, 28, 38, 60, 30, 42, 45,
    48, 35, 45, 58, 75, 48, 30, 50, 32, 32,
    45, 45, 72, 42, 72, 50, 15, 30, 60, 20,
    75, 45, 32, 25, 50, 18, 32, 75, 48, 8,
    48, 55, 55, 48, 68, 62, 35, 45, 30, 25,
    48, 42, 40, 37, 35, 62, 33, 42, 38, 65,
    35, 75, 85, 45, 50, 72, 30, 50, 32, 30,
    28, 72, 12, 42, 48, 60, 45, 62, 45, 12,
    78, 58, 48, 32, 48, 45, 50, 58, 82, 30,
    62, 25, 12, 33, 75, 45, 45, 15, 38, 40,
    35, 45, 48, 50, 70, 35, 72, 82, 20, 20,
    85, 80, 85, 45, 45, 25, 25, 25, 65, 48,
    50, 48, 45, 45, 40, 15, 20, 58, 62, 18,
    25, 28, 48, 72, 48, 60, 75, 85, 45, 70,
    55, 40, 50, 33, 42, 25, 48, 75, 38, 22,
    55, 65, 48, 30, 48, 42, 20, 45,
]

y_major = [1, 2, 3, 4, 6]
y_minor = [0.8, 0.9, 5, 7, 8]
x_ticks = [0.0, 0.2, 0.4, 0.6, 0.8, 1.0]
cbar_ticks = [10, 20, 30, 40, 50, 60, 70, 80]
a_inner = 0.1  # dashed line position (AU)

# ---------------- Combine circle groups ----------------
circ_x = band_x + upper_x + mid_x + outer_x + sparse_x
circ_y = band_y + upper_y + mid_y + outer_y + sparse_y
circ_ang = band_ang + upper_ang + mid_ang + outer_ang + sparse_ang
assert len(tri_x) == len(tri_y) == len(tri_ang)
assert len(circ_x) == len(circ_y) == len(circ_ang)

# ---------------- Semi-transparent viridis ----------------
vir = pc.sequential.Viridis
scale = []
for i, c in enumerate(vir):
    r, g, b = pc.hex_to_rgb(c)
    scale.append([i / (len(vir) - 1), f"rgba({r},{g},{b},0.6)"])
cmin, cmax = 1.6, 88.4

font_family = "Liberation Serif, DejaVu Serif, serif"

fig = go.Figure()

# circles (a > 0.1 AU), colorbar attached here
fig.add_trace(go.Scatter(
    x=circ_x, y=circ_y, mode='markers', showlegend=False,
    marker=dict(
        symbol='circle', size=10, color=circ_ang, colorscale=scale,
        cmin=cmin, cmax=cmax,
        line=dict(width=1, color=circ_ang, colorscale=scale, cmin=cmin, cmax=cmax),
        colorbar=dict(
            title=dict(text="impact angle (°)", side='right',
                       font=dict(family=font_family, size=33, color='black')),
            tickvals=cbar_ticks, ticks='outside', ticklen=6, tickcolor='black',
            tickfont=dict(family=font_family, size=28, color='black'),
            thickness=25, len=1.0, lenmode='fraction', y=0.5, yanchor='middle',
            x=1.0085, xanchor='left', xpad=0, ypad=0,
            outlinewidth=1, outlinecolor='black',
        ),
    ),
))

# triangles (a < 0.1 AU)
fig.add_trace(go.Scatter(
    x=tri_x, y=tri_y, mode='markers', showlegend=False,
    marker=dict(
        symbol='triangle-down', size=12, color=tri_ang, colorscale=scale,
        cmin=cmin, cmax=cmax, showscale=False,
        line=dict(width=1, color=tri_ang, colorscale=scale, cmin=cmin, cmax=cmax),
    ),
))

# dashed line at 0.1 AU
fig.add_shape(type='line', x0=a_inner, x1=a_inner, y0=0, y1=1,
              xref='x', yref='paper',
              line=dict(color='#2e1240', width=1.8, dash='dash'))

# ---------------- Layout ----------------
y_vals = sorted(y_major + y_minor)
y_text = [str(v) if v in y_major else "" for v in y_vals]

# page body adds an 8 px offset, so margins are shifted to land the axes
fig.update_layout(
    width=814, height=579,
    margin=dict(l=84, r=142, t=14, b=111, autoexpand=False),
    plot_bgcolor='white', paper_bgcolor='white',
    font=dict(family=font_family, color='black'),
    xaxis=dict(
        range=[0, 1], tickvals=x_ticks, ticktext=[f"{v:.1f}" for v in x_ticks],
        ticks='outside', ticklen=7, tickcolor='#333', tickwidth=1.2,
        showline=True, linecolor='#333', linewidth=1.2, mirror=True,
        showgrid=False, zeroline=False,
        tickfont=dict(family=font_family, size=29, color='black'),
        title=dict(text="semi-major axis (AU)", standoff=12,
                   font=dict(family=font_family, size=34, color='black')),
    ),
    yaxis=dict(
        type='log', range=[-0.0969, 0.9031],
        tickvals=y_vals, ticktext=y_text,
        ticks='outside', ticklen=7, tickcolor='#333', tickwidth=1.2,
        showline=True, linecolor='#333', linewidth=1.2, mirror=True,
        showgrid=False, zeroline=False,
        tickfont=dict(family=font_family, size=29, color='black'),
        title=dict(text="<i>v</i><sub><i>imp</i></sub>/<i>v</i><sub><i>esc</i></sub>",
                   standoff=12,
                   font=dict(family=font_family, size=38, color='black')),
    ),
)

fig.write_html("out.html")
